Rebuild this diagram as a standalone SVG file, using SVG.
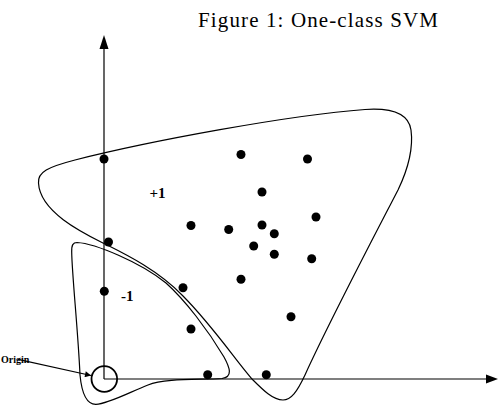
<svg xmlns="http://www.w3.org/2000/svg" width="498" height="406" viewBox="0 0 498 406">
<style>
.ln{fill:none;stroke:#000;stroke-width:1.2}
.dot{fill:#000}
.lbl{font-family:"Liberation Serif","Times New Roman",serif;font-weight:bold;fill:#000}
.title{font-family:"Liberation Serif","Times New Roman",serif;font-size:21px;fill:#000}
</style>
<defs>
<marker id="ah" viewBox="0 0 10 10" refX="10" refY="5" markerWidth="7" markerHeight="6" markerUnits="userSpaceOnUse" orient="auto">
<path d="M0,0 L10,5 L0,10 Z" fill="#000"/>
</marker>
</defs>
<rect width="498" height="406" fill="#fff"/>
<text class="title" x="198" y="27" textLength="240" lengthAdjust="spacing">Figure 1:  One-class SVM</text>
<g id="axes">
<line class="ln" x1="104" y1="379" x2="104" y2="48"/>
<polygon points="99.5,49 104,35 108.5,49" fill="#000"/>
<line class="ln" x1="104" y1="379" x2="488" y2="379"/>
<polygon points="486,374.5 498,379 486,383.5" fill="#000"/>
</g>
<g id="outer-boundary">
<path class="ln" d="M38.5,183 C37.5,172 48,167 75,160 C150,141 290,115 365,109.5 C395,107.5 409,116 411,130 C413,145 410,165 398,190 C380,225 330,320 305,375 C297,392 291,400 283,400 C273,400 263,390 253,380 C240,366 212,325 183,296 C158,270 125,254 104,243.5 C83,233 40,212 38.5,183 Z"/>
</g>
<g id="inner-boundary">
<path class="ln" d="M77,242.5 C95,243.5 140,262 166,283 C185,300 208,330 224,357 C230,368 233,377 222,378.5 C200,380 165,378 148,385 C130,392 108,404 96,404.3 C88,404.5 82,396 80,375 C78,330 72,275 71.7,252 C71.5,245 73,242.5 77,242.5 Z"/>
</g>
<g id="points">
<circle class="dot" cx="104" cy="159" r="4.5"/>
<circle class="dot" cx="241" cy="154.5" r="4.5"/>
<circle class="dot" cx="307.5" cy="159" r="4.5"/>
<circle class="dot" cx="262" cy="192" r="4.5"/>
<circle class="dot" cx="316" cy="217" r="4.5"/>
<circle class="dot" cx="191" cy="225.5" r="4.5"/>
<circle class="dot" cx="228.7" cy="229.5" r="4.5"/>
<circle class="dot" cx="262" cy="225" r="4.5"/>
<circle class="dot" cx="274.3" cy="233.7" r="4.5"/>
<circle class="dot" cx="253.7" cy="246" r="4.5"/>
<circle class="dot" cx="274.3" cy="254.3" r="4.5"/>
<circle class="dot" cx="311.7" cy="258.7" r="4.5"/>
<circle class="dot" cx="108.5" cy="242" r="4.5"/>
<circle class="dot" cx="241" cy="279.3" r="4.5"/>
<circle class="dot" cx="183" cy="287.7" r="4.5"/>
<circle class="dot" cx="104.3" cy="291.3" r="4.5"/>
<circle class="dot" cx="191" cy="329" r="4.5"/>
<circle class="dot" cx="291" cy="316.7" r="4.5"/>
<circle class="dot" cx="207.7" cy="374.7" r="4.5"/>
<circle class="dot" cx="266.3" cy="374.7" r="4.5"/>
</g>
<g id="label-plus1"><text class="lbl" x="149.5" y="197.5" font-size="15">+1</text></g>
<g id="label-minus1"><text class="lbl" x="121" y="300.7" font-size="15">-1</text></g>
<g id="origin">
<circle cx="104.3" cy="379" r="12.8" fill="none" stroke="#000" stroke-width="1.8"/>
<text class="lbl" x="1" y="363" font-size="10">Origin</text>
</g>
<g id="connectors">
<line class="ln" x1="18" y1="359.3" x2="91" y2="375.5" marker-end="url(#ah)"/>
</g>
</svg>
